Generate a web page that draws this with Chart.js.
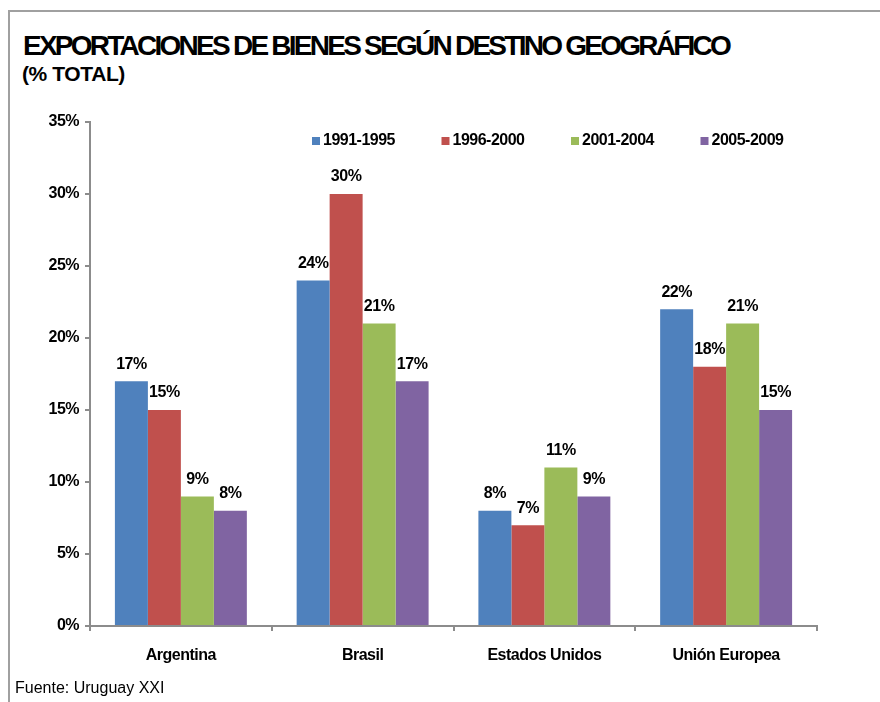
<!DOCTYPE html>
<html>
<head>
<meta charset="utf-8">
<script src="https://cdn.jsdelivr.net/npm/chart.js@4.4.1/dist/chart.umd.min.js"></script>
<style>
  html, body { margin: 0; padding: 0; background: #fff; }
  #wrap { position: relative; width: 880px; height: 702px; overflow: hidden; font-family: 'Liberation Sans', Arial, sans-serif; }
  #frame { position: absolute; left: 8px; top: 10px; width: 900px; height: 720px; border-left: 2px solid #a0a0a0; border-top: 2px solid #a0a0a0; }
  #title { position: absolute; left: 23px; top: 30px; font-size: 28px; font-weight: bold; letter-spacing: -2.75px; color: #000; white-space: nowrap; }
  #subtitle { position: absolute; left: 22px; top: 62px; font-size: 21px; font-weight: bold; letter-spacing: -0.4px; color: #000; }
  #source { position: absolute; left: 15px; top: 679px; font-size: 16px; letter-spacing: 0; color: #000; }
  canvas { position: absolute; left: 0; top: 0; }
</style>
</head>
<body>
<div id="wrap">
  <div id="frame"></div>
  <div id="title">EXPORTACIONES DE BIENES SEGÚN DESTINO GEOGRÁFICO</div>
  <div id="subtitle">(% TOTAL)</div>
  <canvas id="chart" width="880" height="702"></canvas>
  <div id="source">Fuente: Uruguay XXI</div>
</div>
<script>
// datos
const destinos = ['Argentina', 'Brasil', 'Estados Unidos', 'Unión Europea'];
const periodos = ['1991-1995', '1996-2000', '2001-2004', '2005-2009'];
const p1991_1995 = [17, 24, 8, 22];
const p1996_2000 = [15, 30, 7, 18];
const p2001_2004 = [9, 21, 11, 21];
const p2005_2009 = [8, 17, 9, 15];
const colores = ['#4f81bd', '#c0504d', '#9bbb59', '#8064a2'];
const yTicks = [0, 5, 10, 15, 20, 25, 30, 35];

const FONT = "'Liberation Sans', Arial, sans-serif";
const serie = [p1991_1995, p1996_2000, p2001_2004, p2005_2009];

// espaciado de letras más apretado, como en el original
const tightText = {
    id: 'tightText',
    beforeDraw(chart) {
        chart.ctx.letterSpacing = '-0.5px';
    }
};

// etiquetas de valor sobre cada barra
const valueLabels = {
    id: 'valueLabels',
    afterDatasetsDraw(chart) {
        const ctx = chart.ctx;
        ctx.save();
        ctx.font = 'bold 16px ' + FONT;
        ctx.fillStyle = '#000';
        ctx.textAlign = 'center';
        ctx.textBaseline = 'bottom';
        chart.data.datasets.forEach((ds, i) => {
            chart.getDatasetMeta(i).data.forEach((bar, j) => {
                ctx.fillText(ds.data[j] + '%', bar.x, bar.y - 9);
            });
        });
        ctx.restore();
    }
};

// leyenda dentro del área del gráfico
const legendRow = {
    id: 'legendRow',
    afterDraw(chart) {
        const ctx = chart.ctx;
        const area = chart.chartArea;
        ctx.save();
        ctx.font = 'bold 16px ' + FONT;
        ctx.textBaseline = 'middle';
        ctx.textAlign = 'left';
        let x = area.left + 222;
        const y = area.top + 19;
        chart.data.datasets.forEach(ds => {
            ctx.fillStyle = ds.backgroundColor;
            ctx.fillRect(x, y - 4, 8, 8);
            ctx.fillStyle = '#000';
            ctx.fillText(ds.label, x + 11, y);
            x += 129.5;
        });
        ctx.restore();
    }
};

new Chart(document.getElementById('chart'), {
    type: 'bar',
    data: {
        labels: destinos,
        datasets: periodos.map((p, i) => ({
            label: p,
            data: serie[i],
            backgroundColor: colores[i],
            categoryPercentage: 0.726,
            barPercentage: 1
        }))
    },
    options: {
        responsive: false,
        animation: false,
        layout: { padding: { top: 122, right: 63, left: 0, bottom: 0 } },
        plugins: {
            legend: { display: false },
            tooltip: { enabled: false }
        },
        scales: {
            x: {
                afterFit: scale => { scale.height = 76; },
                border: { color: '#8c8c8c', width: 2 },
                grid: { drawOnChartArea: false, drawTicks: true, tickLength: 5, color: '#8c8c8c', lineWidth: 2 },
                ticks: { color: '#000', font: { family: FONT, size: 16, weight: 'bold' }, padding: 15 }
            },
            y: {
                min: 0,
                max: 35,
                afterFit: scale => { scale.width = 90; },
                afterBuildTicks: scale => { scale.ticks = yTicks.map(v => ({ value: v })); },
                border: { color: '#8c8c8c', width: 2 },
                grid: { drawOnChartArea: false, drawTicks: true, tickLength: 5, color: '#8c8c8c', lineWidth: 2 },
                ticks: {
                    color: '#000',
                    font: { family: FONT, size: 16, weight: 'bold' },
                    padding: 6,
                    callback: v => v + '%'
                }
            }
        }
    },
    plugins: [tightText, valueLabels, legendRow]
});
</script>
</body>
</html>
